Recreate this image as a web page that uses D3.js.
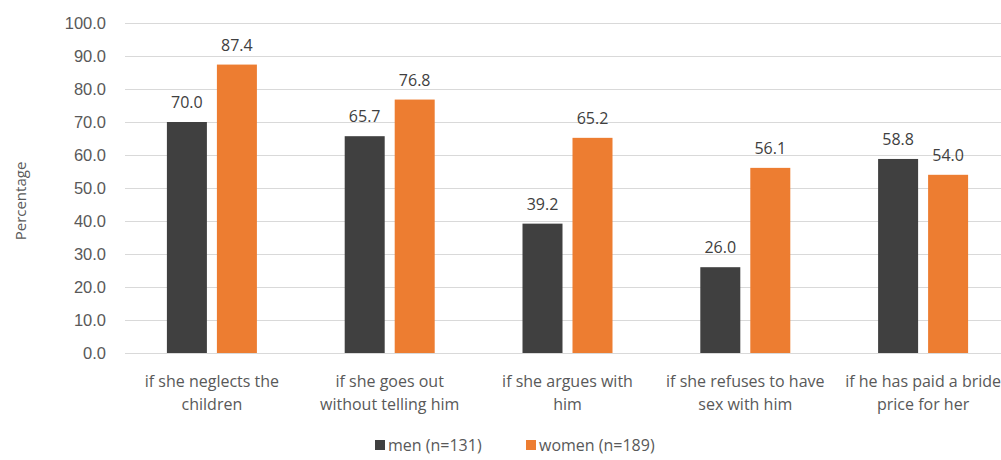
<!DOCTYPE html>
<html>
<head>
<meta charset="utf-8">
<script src="https://cdn.jsdelivr.net/npm/d3@7"></script>
<style>
  body { margin: 0; background: #fff; }
  svg { display: block; font-family: "Open Sans", sans-serif; }
  .tick text { fill: #595959; font-size: 16.5px; }
  .label { fill: #404040; font-size: 16px; }
</style>
</head>
<body>
<svg width="1001" height="460"></svg>
<script>
// Data
let categories = [
  ['if she neglects the', 'children'],
  ['if she goes out', 'without telling him'],
  ['if she argues with', 'him'],
  ['if she refuses to have', 'sex with him'],
  ['if he has paid a bride', 'price for her']
]
let seriesNames = ['men (n=131)', 'women (n=189)']
let men = [70.0, 65.7, 39.2, 26.0, 58.8]
let women = [87.4, 76.8, 65.2, 56.1, 54.0]
let yTicks = [0, 10, 20, 30, 40, 50, 60, 70, 80, 90, 100]

let colors = ['#404040', '#ED7D31']

let svg = d3.select('svg')

// plot area runs a little past the right edge, like the cropped original
let margin = { left: 125, top: 23, bottom: 107 }
let plotRight = 1015
let h = 460 - margin.top - margin.bottom

let x = d3.scaleBand()
  .domain(d3.range(categories.length))
  .range([123, 1012])

let x1 = d3.scaleBand()
  .domain([0, 1])
  .range([-45, 45])
  .paddingInner(0.2)

let y = d3.scaleLinear()
  .domain([0, 100])
  .range([margin.top + h, margin.top])

// Gridlines + y axis labels
let yAxis = svg.append('g')
  .attr('transform', `translate(${margin.left},0)`)
  .call(d3.axisLeft(y)
    .tickValues(yTicks)
    .tickFormat(d3.format('.1f'))
    .tickSize(-(plotRight - margin.left))
    .tickPadding(19))
yAxis.select('.domain').remove()
yAxis.selectAll('.tick line').attr('stroke', '#d9d9d9')
yAxis.selectAll('.tick text').attr('dy', '0.35em')

// Y title
svg.append('text')
  .attr('transform', `translate(26,201) rotate(-90)`)
  .attr('text-anchor', 'middle')
  .attr('fill', '#595959')
  .style('font-size', '15px')
  .text('Percentage')

// Bars
let series = [men, women]
series.forEach((vals, s) => {
  let g = svg.append('g')
  g.selectAll('rect')
    .data(vals)
    .enter()
    .append('rect')
    .attr('x', (d, i) => x(i) + x.bandwidth() / 2 + x1(s))
    .attr('width', x1.bandwidth())
    .attr('y', d => y(d))
    .attr('height', d => y(0) - y(d))
    .attr('fill', colors[s])

  g.selectAll('text')
    .data(vals)
    .enter()
    .append('text')
    .attr('class', 'label')
    .attr('x', (d, i) => x(i) + x.bandwidth() / 2 + x1(s) + x1.bandwidth() / 2)
    .attr('y', d => y(d) - 14)
    .attr('text-anchor', 'middle')
    .text(d => d.toFixed(1))
})

// Category labels (last one is cut at the right edge, as in the source image)
let catG = svg.append('g')
categories.forEach((lines, i) => {
  let t = catG.append('text')
    .attr('x', x(i) + x.bandwidth() / 2)
    .attr('y', y(0) + 34)
    .attr('text-anchor', 'middle')
    .attr('fill', '#595959')
    .style('font-size', '16px')
  lines.forEach((ln, k) => {
    t.append('tspan')
      .attr('x', x(i) + x.bandwidth() / 2)
      .attr('dy', k === 0 ? 0 : 23)
      .text(ln)
  })
})

// Legend
let legend = svg.append('g')
  .attr('transform', `translate(375,445)`)
let legX = [0, 151]
seriesNames.forEach((name, s) => {
  legend.append('rect')
    .attr('x', legX[s])
    .attr('y', -5)
    .attr('width', 10)
    .attr('height', 10)
    .attr('fill', colors[s])
  legend.append('text')
    .attr('x', legX[s] + 13)
    .attr('y', 0)
    .attr('dy', '0.35em')
    .attr('fill', '#595959')
    .style('font-size', '16px')
    .text(name)
})
</script>
</body>
</html>
